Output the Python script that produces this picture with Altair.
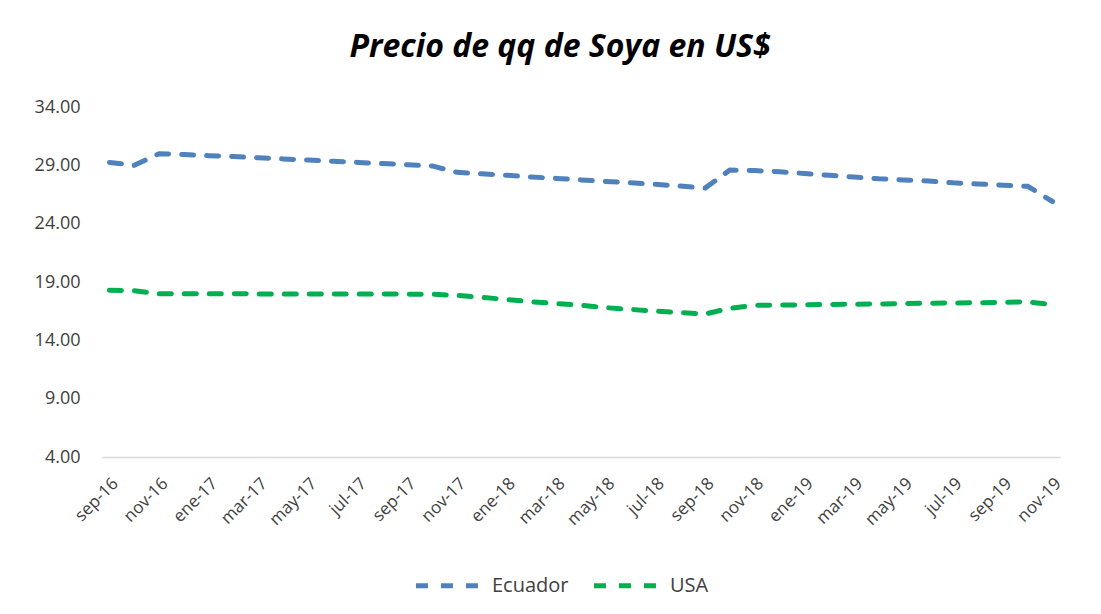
import altair as alt
import pandas as pd

months = ["sep-16", "oct-16", "nov-16", "dic-16", "ene-17", "feb-17", "mar-17", "abr-17",
          "may-17", "jun-17", "jul-17", "ago-17", "sep-17", "oct-17", "nov-17", "dic-17",
          "ene-18", "feb-18", "mar-18", "abr-18", "may-18", "jun-18", "jul-18", "ago-18",
          "sep-18", "oct-18", "nov-18", "dic-18", "ene-19", "feb-19", "mar-19", "abr-19",
          "may-19", "jun-19", "jul-19", "ago-19", "sep-19", "oct-19", "nov-19"]

ecuador = [29.25, 29.0, 30.0, 29.92, 29.83, 29.75, 29.65, 29.55, 29.45, 29.35, 29.25, 29.15,
           29.05, 28.95, 28.4, 28.27, 28.15, 28.0, 27.88, 27.75, 27.62, 27.5, 27.37, 27.22,
           27.05, 28.6, 28.55, 28.45, 28.3, 28.15, 28.0, 27.85, 27.75, 27.65, 27.5, 27.4,
           27.3, 27.2, 25.9]

usa = [18.3, 18.25, 18.0, 18.0, 18.0, 18.0, 17.98, 17.98, 17.98, 17.98, 17.97, 17.97,
       17.96, 17.95, 17.85, 17.68, 17.5, 17.3, 17.15, 17.0, 16.8, 16.65, 16.5, 16.38,
       16.25, 16.75, 17.0, 17.02, 17.05, 17.07, 17.1, 17.12, 17.15, 17.18, 17.2, 17.22,
       17.25, 17.3, 17.05]

series = ["Ecuador", "USA"]
colors = ["#4F81BD", "#00B050"]
y_ticks = [4, 9, 14, 19, 24, 29, 34]

rows = []
for i, (m, e, u) in enumerate(zip(months, ecuador, usa)):
    rows.append({"mes": m, "idx": i, "serie": "Ecuador", "precio": e})
    rows.append({"mes": m, "idx": i, "serie": "USA", "precio": u})
df = pd.DataFrame(rows)

FONT = "Open Sans"

chart = alt.Chart(df).mark_line(
    strokeWidth=5, strokeDash=[12, 13], strokeCap="round"
).encode(
    x=alt.X("mes:O", sort=months, title=None,
            scale=alt.Scale(type="point", padding=0.3),
            axis=alt.Axis(values=months[::2], labelAngle=-45, labelFontSize=17,
                          labelColor="#404040", labelFont=FONT, ticks=False,
                          domainColor="#D9D9D9", domainWidth=1.5, labelPadding=18,
                          grid=False)),
    y=alt.Y("precio:Q", title=None,
            scale=alt.Scale(domain=[4, 34], nice=False, zero=False),
            axis=alt.Axis(values=y_ticks, format=".2f", labelFontSize=18,
                          labelColor="#404040", labelFont=FONT, ticks=False,
                          domain=False, grid=False, labelPadding=22)),
    color=alt.Color("serie:N", scale=alt.Scale(domain=series, range=colors),
                    legend=alt.Legend(title=None, orient="none", direction="horizontal",
                                      legendX=311, legendY=442,
                                      symbolType="stroke", symbolSize=4500,
                                      symbolStrokeWidth=5, symbolDash=[12, 13],
                                      labelFontSize=20, labelFont=FONT,
                                      labelColor="#404040", labelOffset=6,
                                      columnPadding=14)),
    order=alt.Order("idx:Q")
).properties(
    width=958, height=350,
    title=alt.TitleParams("Precio de qq de Soya en US$", fontSize=32, font=FONT,
                          fontStyle="italic", fontWeight="bold", color="#000000",
                          anchor="middle", baseline="alphabetic", offset=9, dx=-21),
    autosize=alt.AutoSizeParams(type="none"),
    padding={"left": 94, "top": 99, "right": 30, "bottom": 145}
).configure_view(stroke=None)

chart.save("out.html", embed_options={"renderer": "svg", "actions": False})
